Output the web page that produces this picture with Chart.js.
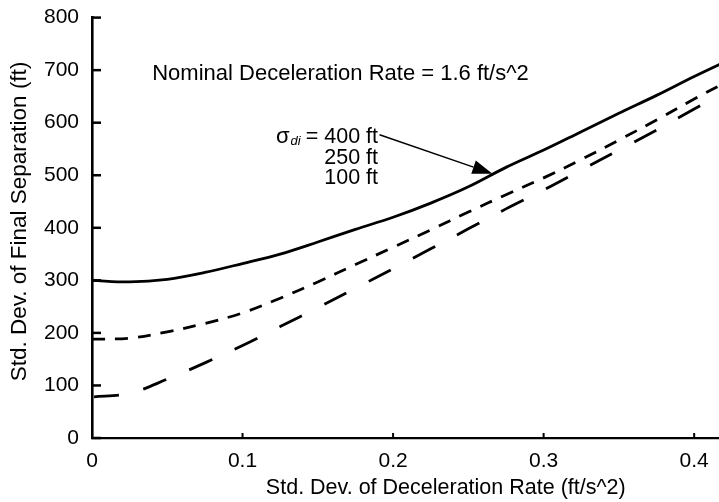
<!DOCTYPE html>
<html>
<head>
<meta charset="utf-8">
<script src="https://cdn.jsdelivr.net/npm/chart.js@4"></script>
<style>
  html, body { margin: 0; padding: 0; background: #fff; }
  #wrap { width: 719px; height: 502px; }
</style>
</head>
<body>
<div id="wrap"><canvas id="sepChart" width="719" height="502"></canvas></div>
<script>
// std. dev. of deceleration rate (ft/s^2)
const decelSd = [0, 0.025, 0.05, 0.075, 0.1, 0.125, 0.15, 0.175, 0.2, 0.225, 0.25, 0.275, 0.3, 0.325, 0.35, 0.375, 0.4, 0.425];
// std. dev. of final separation (ft), one array per initial sigma
const sep400 = [300, 297, 302, 315, 332, 350, 373, 397, 420, 447, 478, 515, 548, 583, 618, 652, 688, 722];
const sep250 = [188, 190, 202, 218, 238, 266, 297, 330, 363, 396, 430, 463, 495, 530, 567, 605, 645, 683];
const sep100 = [78, 85, 112, 143, 176, 212, 248, 285, 322, 360, 398, 436, 472, 510, 548, 586, 626, 666];
const xTicks = [0, 0.1, 0.2, 0.3, 0.4];
const yTicks = [0, 100, 200, 300, 400, 500, 600, 700, 800];
const sigmaLabels = ['400 ft', '250 ft', '100 ft'];
const noteText = 'Nominal Deceleration Rate = 1.6 ft/s^2';
const xTitle = 'Std. Dev. of Deceleration Rate (ft/s^2)';
const yTitle = 'Std. Dev. of Final Separation (ft)';

const FONT = '"Liberation Sans", Arial, Helvetica, sans-serif';

function pts(ys){ return decelSd.map((x, i) => ({x, y: ys[i]})); }

// inward tick marks, axis titles, note text and the arrow
const plotExtras = {
  id: 'plotExtras',
  afterDraw(chart){
    const {ctx, scales:{x, y}} = chart;
    ctx.save();
    ctx.strokeStyle = '#000';
    ctx.fillStyle = '#000';
    ctx.lineWidth = 2.5;
    const x0 = x.getPixelForValue(0), y0 = y.getPixelForValue(0);
    yTicks.forEach(v => {
      const py = y.getPixelForValue(v);
      ctx.beginPath(); ctx.moveTo(x0, py); ctx.lineTo(x0 + 9, py); ctx.stroke();
    });
    ctx.lineWidth = 2;
    xTicks.forEach(v => {
      const px = x.getPixelForValue(v);
      ctx.beginPath(); ctx.moveTo(px, y0); ctx.lineTo(px, y0 - 5); ctx.stroke();
    });

    ctx.textBaseline = 'middle';
    ctx.textAlign = 'center';
    // x title sits centred under the full axis (which runs past the right edge)
    ctx.font = '21.5px ' + FONT;
    ctx.fillText(xTitle, x.getPixelForValue(0.235), 488);
    ctx.save();
    ctx.translate(20, y.getPixelForValue(412));
    ctx.rotate(-Math.PI / 2);
    ctx.font = '22.5px ' + FONT;
    ctx.fillText(yTitle, 0, 0);
    ctx.restore();

    ctx.font = '22px ' + FONT;
    ctx.textAlign = 'left';
    ctx.fillText(noteText, x.getPixelForValue(0.040), y.getPixelForValue(693));

    // sigma label block, right aligned
    const rx = x.getPixelForValue(0.190);
    ctx.textAlign = 'right';
    ctx.font = '21.5px ' + FONT;
    const first = '= ' + sigmaLabels[0];
    const fy = y.getPixelForValue(573);
    ctx.fillText(first, rx, fy);
    let lx = rx - ctx.measureText(first).width - 5;
    ctx.font = 'italic 13px ' + FONT;
    ctx.fillText('di', lx, fy + 5);
    lx -= ctx.measureText('di').width + 1;
    ctx.font = '22px ' + FONT;
    ctx.fillText('σ', lx, fy);
    ctx.font = '21.5px ' + FONT;
    ctx.fillText(sigmaLabels[1], rx, y.getPixelForValue(532));
    ctx.fillText(sigmaLabels[2], rx, y.getPixelForValue(494));

    // arrow to the 400 ft curve
    const ax = x.getPixelForValue(0.191), ay = y.getPixelForValue(577);
    const bx = x.getPixelForValue(0.266), by = y.getPixelForValue(503);
    const ang = Math.atan2(by - ay, bx - ax);
    const hl = 20, hw = 7;
    ctx.lineWidth = 1.5;
    ctx.beginPath(); ctx.moveTo(ax, ay);
    ctx.lineTo(bx - hl * Math.cos(ang), by - hl * Math.sin(ang)); ctx.stroke();
    ctx.beginPath();
    ctx.moveTo(bx, by);
    ctx.lineTo(bx - hl * Math.cos(ang) + hw * Math.sin(ang), by - hl * Math.sin(ang) - hw * Math.cos(ang));
    ctx.lineTo(bx - hl * Math.cos(ang) - hw * Math.sin(ang), by - hl * Math.sin(ang) + hw * Math.cos(ang));
    ctx.closePath(); ctx.fill();
    ctx.restore();
  }
};

const lineStyle = {borderColor:'#000', borderWidth:2.8, pointRadius:0, tension:0.35, fill:false};

new Chart(document.getElementById('sepChart'), {
  type: 'line',
  data: {
    datasets: [
      {label:'400 ft', data: pts(sep400), ...lineStyle},
      {label:'250 ft', data: pts(sep250), ...lineStyle, borderDash:[13, 10]},
      {label:'100 ft', data: pts(sep100), ...lineStyle, borderDash:[25, 25], borderDashOffset:-2}
    ]
  },
  options: {
    responsive: false,
    animation: false,
    layout: {padding: {top: 15, right: 0, left: 0, bottom: 0}},
    plugins: {legend: {display: false}, tooltip: {enabled: false}},
    scales: {
      x: {
        type: 'linear', min: 0, max: 0.4165,
        grid: {display: false},
        border: {display: true, color: '#000', width: 2.2},
        afterBuildTicks: s => { s.ticks = xTicks.map(v => ({value: v})); },
        afterFit: s => { s.height = 64; },
        ticks: {color:'#000', font:{family:FONT, size:21}, padding: 3, maxRotation: 0,
          callback: v => String(v)}
      },
      y: {
        type: 'linear', min: 0, max: 800,
        grid: {display: false},
        border: {display: true, color: '#000', width: 2.6},
        afterBuildTicks: s => { s.ticks = yTicks.map(v => ({value: v})); },
        afterFit: s => { s.width = 92; },
        ticks: {color:'#000', font:{family:FONT, size:21}, padding: 5}
      }
    }
  },
  plugins: [plotExtras]
});
</script>
</body>
</html>
